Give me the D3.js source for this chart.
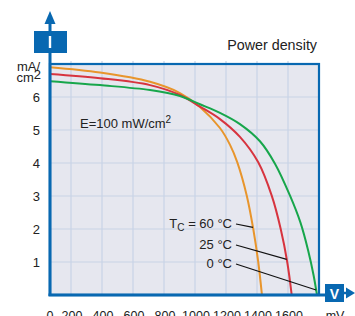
<!DOCTYPE html>
<html>
<head>
<meta charset="utf-8">
<script src="https://cdn.jsdelivr.net/npm/d3@7"></script>
<style>
  body { margin: 0; background: #fff; }
  svg { display: block; font-family: "Liberation Sans", Arial, sans-serif; }
</style>
</head>
<body>
<div id="chart"></div>
<script>
// Voltage (mV) and current density (mA/cm2)
var series = ["60", "25", "0"];
var colors = ["#e8952c", "#d7343f", "#17a64b"];
var voltage60 = [64.5, 387, 710, 903, 1032, 1161, 1226, 1273, 1334, 1376, 1408, 1432];
var current60 = [6.90, 6.74, 6.46, 6.12, 5.70, 5.06, 4.55, 4.02, 3.01, 2.0, 1.0, 0];
var voltage25 = [64.5, 387, 710, 903, 1032, 1161, 1290, 1408, 1495, 1553, 1595, 1624];
var current25 = [6.70, 6.57, 6.36, 6.06, 5.71, 5.33, 4.79, 4.02, 3.01, 2.0, 1.0, 0];
var voltage0 = [64.5, 387, 710, 903, 1032, 1161, 1290, 1419, 1516, 1613, 1680, 1730, 1765, 1787];
var current0 = [6.48, 6.36, 6.21, 6.03, 5.78, 5.52, 5.18, 4.66, 3.98, 3.01, 2.2, 1.35, 0.6, 0];
var xTicks = [0, 200, 400, 600, 800, 1000, 1200, 1400, 1600];
var yTicks = [1, 2, 3, 4, 5, 6];
// current where each label's leader line meets its curve
var leaderCurrent = [2.05, 1.08, 0.15];

var width = 355, height = 316;
var blue = "#0868b1";

var svg = d3.select("#chart").append("svg")
  .attr("width", width)
  .attr("height", height);

var x = d3.scaleLinear().domain([0, 1800]).range([40, 319]);
var y = d3.scaleLinear().domain([0, 6]).range([295, 97]);

// plot box (named to avoid clashing with window.top)
var pLeft = 50, pRight = x(1800), pTop = y(7), pBottom = y(0);

// plot background
svg.append("rect")
  .attr("x", pLeft).attr("y", pTop)
  .attr("width", pRight - pLeft).attr("height", pBottom - pTop)
  .attr("fill", "#e6e7ef");

// grid
svg.append("g").selectAll("line")
  .data(yTicks)
  .enter().append("line")
    .attr("x1", pLeft).attr("x2", pRight)
    .attr("y1", function(d) { return y(d); })
    .attr("y2", function(d) { return y(d); })
    .attr("stroke", "#c8d4e6").attr("stroke-width", 1.2);

svg.append("g").selectAll("line")
  .data(xTicks.filter(function(d) { return d > 0; }))
  .enter().append("line")
    .attr("x1", function(d) { return x(d); })
    .attr("x2", function(d) { return x(d); })
    .attr("y1", pTop - 3).attr("y2", pBottom)
    .attr("stroke", "#c8d4e6").attr("stroke-width", 1.2);

// curves
svg.append("clipPath").attr("id", "clip")
  .append("rect")
  .attr("x", pLeft).attr("y", pTop)
  .attr("width", pRight - pLeft).attr("height", pBottom - pTop);

var curves = [
  d3.zip(voltage60, current60),
  d3.zip(voltage25, current25),
  d3.zip(voltage0, current0)
];

var line = d3.line()
  .x(function(d) { return x(d[0]); })
  .y(function(d) { return y(d[1]); })
  .curve(d3.curveCatmullRom.alpha(0.5));

svg.append("g").attr("clip-path", "url(#clip)")
  .selectAll("path")
  .data(curves)
  .enter().append("path")
    .attr("d", line)
    .attr("fill", "none")
    .attr("stroke", function(d, i) { return colors[i]; })
    .attr("stroke-width", 2);

// frame
svg.append("rect")
  .attr("x", pLeft).attr("y", pTop)
  .attr("width", pRight - pLeft).attr("height", pBottom - pTop)
  .attr("fill", "none")
  .attr("stroke", blue).attr("stroke-width", 2.2);

// vertical axis with arrow and "I" box
svg.append("line")
  .attr("x1", pLeft).attr("x2", pLeft)
  .attr("y1", pBottom + 1).attr("y2", 20)
  .attr("stroke", blue).attr("stroke-width", 3);
svg.append("path")
  .attr("d", "M" + (pLeft - 5.5) + ",24L" + pLeft + ",11L" + (pLeft + 5.5) + ",24Z")
  .attr("fill", blue);
svg.append("rect")
  .attr("x", 34).attr("y", 31).attr("width", 33).attr("height", 22)
  .attr("fill", blue);
svg.append("rect")
  .attr("x", pLeft - 1.2).attr("y", 36).attr("width", 2.4).attr("height", 12)
  .attr("fill", "#fff");

// horizontal axis with arrow and "V" box
svg.append("line")
  .attr("x1", pLeft - 1.5).attr("x2", 326)
  .attr("y1", pBottom).attr("y2", pBottom)
  .attr("stroke", blue).attr("stroke-width", 3);
svg.append("rect")
  .attr("x", 325).attr("y", 284).attr("width", 19).attr("height", 18)
  .attr("fill", blue);
svg.append("text")
  .attr("x", 334.5).attr("y", 298.5)
  .attr("text-anchor", "middle")
  .attr("font-size", 14).attr("font-weight", "bold")
  .attr("fill", "#fff")
  .text("V");
svg.append("line")
  .attr("x1", 344).attr("x2", 347)
  .attr("y1", 293).attr("y2", 293)
  .attr("stroke", blue).attr("stroke-width", 2.5);
svg.append("path")
  .attr("d", "M346,287.5L355,293L346,298.5Z")
  .attr("fill", blue);

// tick labels
svg.append("g").selectAll("text")
  .data(yTicks)
  .enter().append("text")
    .attr("x", 40)
    .attr("y", function(d) { return y(d) + 4.5; })
    .attr("text-anchor", "end")
    .attr("font-size", 13)
    .attr("fill", "#222")
    .text(function(d) { return d; });

svg.append("g").selectAll("text")
  .data(xTicks)
  .enter().append("text")
    .attr("x", function(d) { return d === 0 ? pLeft : x(d) + 1; })
    .attr("y", 319.5)
    .attr("text-anchor", "middle")
    .attr("font-size", 12.5)
    .attr("fill", "#222")
    .text(function(d) { return d; });

svg.append("text")
  .attr("x", 335).attr("y", 319.5)
  .attr("text-anchor", "middle")
  .attr("font-size", 12.5).attr("fill", "#222")
  .text("mV");

// unit label
svg.append("text")
  .attr("x", 40).attr("y", 71)
  .attr("text-anchor", "end")
  .attr("font-size", 13).attr("fill", "#222")
  .text("mA/");
var cm = svg.append("text")
  .attr("x", 41).attr("y", 82)
  .attr("text-anchor", "end")
  .attr("font-size", 13).attr("fill", "#222");
cm.append("tspan").text("cm");
cm.append("tspan").attr("dy", -3).text("2");

// title
svg.append("text")
  .attr("x", 317).attr("y", 50)
  .attr("text-anchor", "end")
  .attr("font-size", 14.3).attr("fill", "#222")
  .text("Power density");

// irradiance note
var e = svg.append("text")
  .attr("x", 80).attr("y", 128)
  .attr("font-size", 13).attr("fill", "#222");
e.append("tspan").text("E=100 mW/cm");
e.append("tspan").attr("dy", -5).attr("font-size", 10).text("2");

// temperature labels with leader lines
function voltageAt(curve, c) {
  for (var i = 1; i < curve.length; i++) {
    var a = curve[i - 1], b = curve[i];
    if (a[1] >= c && b[1] <= c) {
      var t = (a[1] - c) / (a[1] - b[1]);
      return a[0] + t * (b[0] - a[0]);
    }
  }
  return curve[curve.length - 1][0];
}

var labelY = [228, 249, 268];
var labels = svg.append("g");
series.forEach(function(s, i) {
  var t = labels.append("text")
    .attr("x", 232).attr("y", labelY[i])
    .attr("text-anchor", "end")
    .attr("font-size", 13).attr("fill", "#222");
  if (i === 0) {
    t.append("tspan").text("T");
    t.append("tspan").attr("dy", 3).attr("font-size", 10).text("C");
    t.append("tspan").attr("dy", -3).text(" = " + s + " \u00b0C");
  } else {
    t.text(s + " \u00b0C");
  }
  var tx = x(voltageAt(curves[i], leaderCurrent[i]));
  var ty = y(leaderCurrent[i]);
  labels.append("line")
    .attr("x1", 236).attr("y1", labelY[i] - 4)
    .attr("x2", tx).attr("y2", ty)
    .attr("stroke", "#111").attr("stroke-width", 1.2);
});
</script>
</body>
</html>
